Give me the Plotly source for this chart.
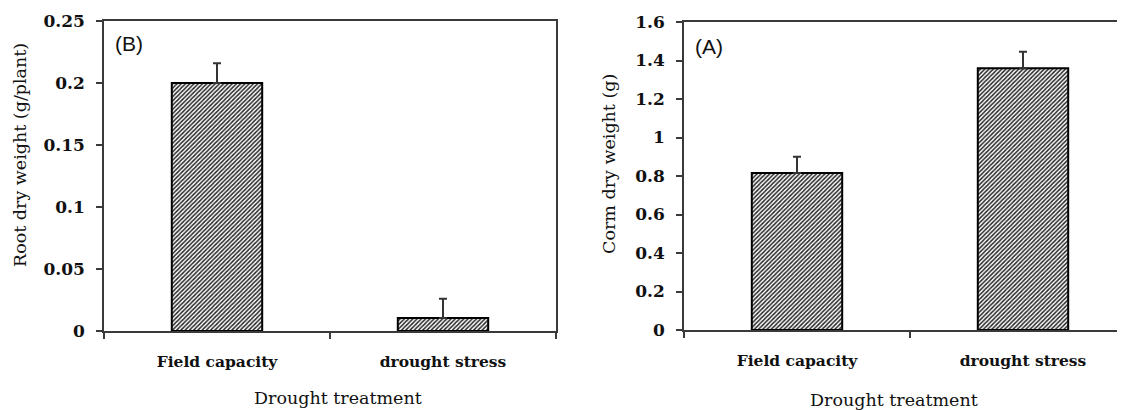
import plotly.graph_objects as go

categories = ["Field capacity", "drought stress"]
root_dry_weight = [0.2, 0.0105]
root_err_top = [0.216, 0.026]
corm_dry_weight = [0.815, 1.36]
corm_err_top = [0.90, 1.445]

root_ticks = [0, 0.05, 0.1, 0.15, 0.2, 0.25]
root_tick_text = ["0", "0.05", "0.1", "0.15", "0.2", "0.25"]
corm_ticks = [0, 0.2, 0.4, 0.6, 0.8, 1.0, 1.2, 1.4, 1.6]
corm_tick_text = ["0", "0.2", "0.4", "0.6", "0.8", "1", "1.2", "1.4", "1.6"]

# page body has an 8px margin, so the figure is sized to fit the 1125x410 window
OFF = 8
W, H = 1125 - OFF, 410 - OFF
SERIF = "DejaVu Serif, serif"
LINE = "#3a3a3a"


def sx(p):
    return (p - OFF) / W


def sy(p):
    return 1 - (p - OFF) / H


def bar(y, err_top, xa, ya):
    return go.Bar(
        x=categories, y=y, xaxis=xa, yaxis=ya, width=0.4,
        marker=dict(color="white", line=dict(color="black", width=2),
                    pattern=dict(shape="/", fgcolor="#262626", bgcolor="white",
                                 size=3, solidity=0.5, fillmode="replace")),
        error_y=dict(type="data", symmetric=False,
                     array=[t - v for t, v in zip(err_top, y)],
                     arrayminus=[0] * len(y),
                     color="#333333", thickness=2, width=4),
        showlegend=False, hoverinfo="skip",
    )


fig = go.Figure()
fig.add_trace(bar(root_dry_weight, root_err_top, "x", "y"))
fig.add_trace(bar(corm_dry_weight, corm_err_top, "x2", "y2"))

xcommon = dict(type="category", showline=True, linecolor=LINE, linewidth=1.5,
               ticks="outside", tickson="boundaries", ticklen=6, tickcolor=LINE,
               tickwidth=1.5, showgrid=False, zeroline=False, fixedrange=True,
               ticklabelstandoff=16, automargin=False,
               tickfont=dict(family=SERIF, size=15.5, color="#111111", weight="bold"))
ycommon = dict(showline=True, linecolor=LINE, linewidth=1.5, ticks="outside",
               ticklen=6, tickcolor=LINE, tickwidth=1.5, showgrid=False,
               zeroline=False, fixedrange=True, ticklabelstandoff=8,
               automargin=False,
               tickfont=dict(family=SERIF, size=17, color="#111111", weight="bold"))

fig.update_layout(
    width=W, height=H, autosize=False, margin=dict(l=0, r=0, t=0, b=0, pad=0),
    plot_bgcolor="white", paper_bgcolor="white",
    xaxis=dict(xcommon, domain=[sx(104), sx(556)], range=[-0.5, 1.5],
               mirror=True, anchor="y"),
    yaxis=dict(ycommon, domain=[sy(331), sy(21)], range=[0, 0.25],
               tickvals=root_ticks, ticktext=root_tick_text, mirror=True,
               anchor="x"),
    xaxis2=dict(xcommon, domain=[sx(684), 1.0],
                range=[-0.5, -0.5 + (1125 - 684) / 226.0], mirror=True,
                anchor="y2"),
    yaxis2=dict(ycommon, domain=[sy(330), sy(22)], range=[0, 1.6],
                tickvals=corm_ticks, ticktext=corm_tick_text, mirror=False,
                anchor="x2"),
)

ann_font = dict(family=SERIF, size=17.5, color="#111111")
annotations = [
    dict(text="Root dry weight (g/plant)", x=sx(20), y=sy(155), textangle=-90),
    dict(text="Corm dry weight (g)", x=sx(609), y=sy(164), textangle=-90),
    dict(text="Drought treatment", x=sx(338), y=sy(398)),
    dict(text="Drought treatment", x=sx(894), y=sy(400)),
]
for a in annotations:
    fig.add_annotation(xref="paper", yref="paper", showarrow=False,
                       xanchor="center", yanchor="middle", font=ann_font, **a)

lab_font = dict(family="Liberation Sans, Arial, sans-serif", size=21, color="#111111")
fig.add_annotation(text="(B)", xref="paper", yref="paper", x=sx(113),
                   y=sy(43), xanchor="left", yanchor="middle",
                   showarrow=False, font=lab_font)
fig.add_annotation(text="(A)", xref="paper", yref="paper", x=sx(693),
                   y=sy(47), xanchor="left", yanchor="middle",
                   showarrow=False, font=lab_font)

fig.write_html("out.html")
